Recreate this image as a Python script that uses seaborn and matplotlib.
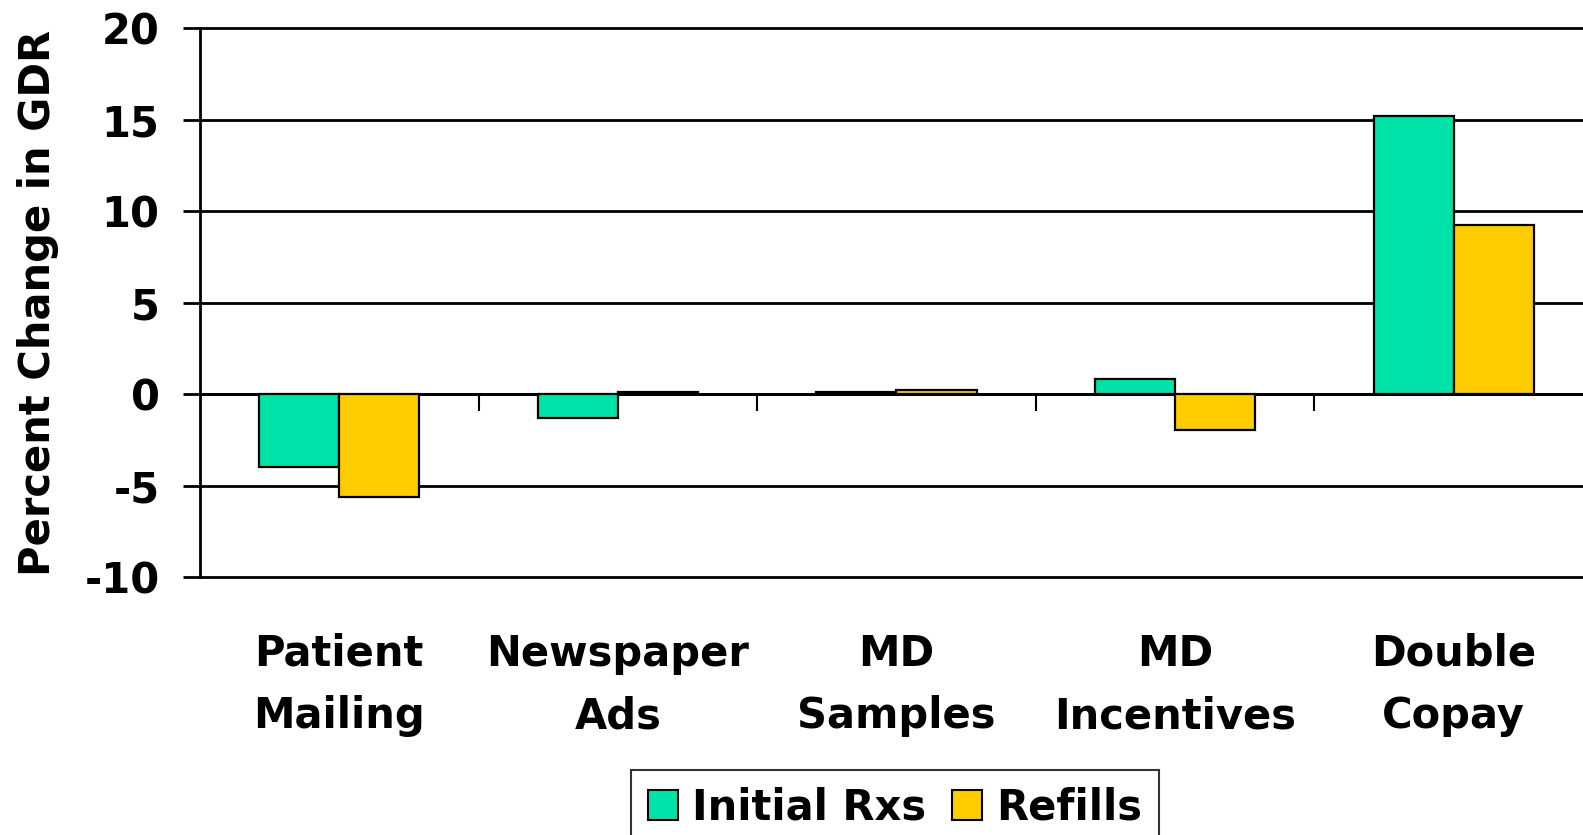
import matplotlib
matplotlib.use("Agg")
import matplotlib.pyplot as plt
import seaborn as sns
import pandas as pd

# Program categories and the percent change in generic dispensing rate
categories = ["Patient\nMailing", "Newspaper\nAds", "MD\nSamples", "MD\nIncentives", "Double\nCopay"]
initial_rxs = [-4.0, -1.3, 0.1, 0.85, 15.2]
refills = [-5.65, 0.1, 0.2, -1.95, 9.25]
series_names = ["Initial Rxs", "Refills"]
series_colors = ["#00E3A8", "#FFCC00"]
y_ticks = [-10, -5, 0, 5, 10, 15, 20]

df = pd.DataFrame({
    "category": categories * 2,
    "value": initial_rxs + refills,
    "series": [series_names[0]] * len(categories) + [series_names[1]] * len(categories),
})

sns.set_theme(style="white")
plt.rcParams["font.family"] = ["DejaVu Sans"]
plt.rcParams["font.weight"] = "bold"
plt.rcParams["text.color"] = "black"
plt.rcParams["axes.labelcolor"] = "black"
plt.rcParams["xtick.color"] = "black"
plt.rcParams["ytick.color"] = "black"
FS = 30

fig = plt.figure(figsize=(15.83, 8.35), dpi=100)
ax = fig.add_axes([0.1263, 0.309, 0.880, 0.657])

sns.barplot(data=df, x="category", y="value", hue="series", order=categories,
            hue_order=series_names, palette=series_colors, saturation=1,
            width=0.575, edgecolor="black", linewidth=1.6, ax=ax, legend=True)

ymin, ymax = y_ticks[0], y_ticks[-1]
ax.set_ylim(ymin, ymax)
ax.set_xlim(-0.5, len(categories) - 0.5)
ax.set_yticks(y_ticks)
ax.set_yticklabels([str(t) for t in y_ticks], fontsize=FS, fontweight="bold")
ax.yaxis.grid(True, color="black", linewidth=2)
for gl in ax.yaxis.get_gridlines():
    gl.set_clip_on(False)
ax.set_axisbelow(True)
for side in ["top", "right", "bottom"]:
    ax.spines[side].set_visible(False)
ax.spines["left"].set_color("black")
ax.spines["left"].set_linewidth(2)
ax.tick_params(axis="y", direction="out", length=12, width=2, color="black",
               pad=17, left=True, labelcolor="black")
ax.tick_params(axis="x", length=0, pad=40, labelcolor="black")
ax.set_xticks(range(len(categories)))
ax.set_xticklabels(categories, fontsize=FS, fontweight="bold", linespacing=1.62)
ax.set_xlabel("")
ax.set_ylabel("Percent Change in GDR", fontsize=FS, fontweight="bold", color="black")
ax.yaxis.set_label_coords(-0.101, 0.5)

# Category axis drawn at the zero line with ticks between groups
zero_loc = (0 - ymin) / (ymax - ymin)
sec = ax.secondary_xaxis(zero_loc)
sec.set_xticks([i + 0.5 for i in range(len(categories) - 1)])
sec.set_xticklabels([])
sec.tick_params(axis="x", direction="out", length=12, width=1.5, color="black")
sec.spines["bottom"].set_color("black")
sec.spines["bottom"].set_linewidth(2)

handles, labels = ax.get_legend_handles_labels()
ax.get_legend().remove()
leg = fig.legend(handles, labels, loc="upper center", bbox_to_anchor=(0.5654, 0.0778),
                 ncol=2, frameon=True, fancybox=False, edgecolor="black",
                 prop={"size": FS, "weight": "bold"}, handlelength=0.72,
                 handleheight=0.72, handletextpad=0.35, columnspacing=0.6,
                 borderpad=0.4, borderaxespad=0)
leg.get_frame().set_linewidth(1.5)
for t in leg.get_texts():
    t.set_color("black")
for h in leg.legend_handles:
    h.set_edgecolor("black")
    h.set_linewidth(1.5)

fig.savefig("out.png", dpi=100)
